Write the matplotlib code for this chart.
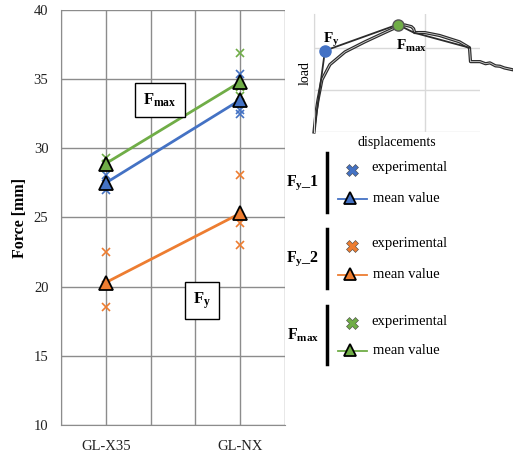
#!/usr/bin/env python3
"""
Force comparison chart: F_y_1, F_y_2 and F_max for two glulam types
"""

import numpy as np
import matplotlib
matplotlib.use('Agg')
import matplotlib.pyplot as plt

plt.rcParams['font.family'] = ['Liberation Serif', 'DejaVu Serif']
plt.rcParams['mathtext.fontset'] = 'custom'
plt.rcParams['mathtext.rm'] = 'Liberation Serif'
plt.rcParams['mathtext.bf'] = 'Liberation Serif:bold'
plt.rcParams['mathtext.default'] = 'regular'

# Data
categories = ['GL-X35', 'GL-NX']
cat_pos = [1, 4]

fy1_exp = [[28.1, 27.0, 27.4], [35.4, 32.5, 32.8]]
fy1_mean = [27.5, 33.5]
fy2_exp = [[22.5, 18.5, 20.1], [28.1, 24.6, 23.0]]
fy2_mean = [20.3, 25.3]
fmax_exp = [[29.3, 28.6, 28.9], [36.9, 33.8, 34.4]]
fmax_mean = [28.9, 34.8]

# sketch of a load-displacement curve for the inset
curve_x = [0, 0.02, 0.036, 0.072, 0.144, 0.28, 0.46, 0.64, 0.757, 0.82, 0.88,
           0.9, 0.91, 1.0, 1.135, 1.315, 1.405, 1.414, 1.5, 1.55, 1.59, 1.64,
           1.68, 1.72, 1.79]
curve_y = [0, 0.5, 0.76, 1.24, 1.6, 1.9, 2.14, 2.36, 2.5, 2.54, 2.5,
           2.45, 2.36, 2.36, 2.29, 2.14, 2.0, 1.67, 1.67, 1.62, 1.64, 1.57,
           1.56, 1.52, 1.48]
bilin_x = [0, 0.099, 0.757, 0.9, 1.405]
bilin_y = [0, 1.93, 2.55, 2.36, 2.0]
fy_point = (0.099, 1.93)
fmax_point = (0.757, 2.55)

BLUE = '#4472C4'
ORANGE = '#ED7D31'
GREEN = '#70AD47'
GRID = '#8c8c8c'

fig = plt.figure(figsize=(5.13, 4.54), dpi=100)

# Main chart
ax = fig.add_axes([61 / 513, 1 - 425 / 454, 224 / 513, 415 / 454])

series = [
    (fy2_exp, fy2_mean, ORANGE),
    (fy1_exp, fy1_mean, BLUE),
    (fmax_exp, fmax_mean, GREEN),
]
for exp, mean, color in series:
    for pos, vals in zip(cat_pos, exp):
        ax.plot([pos] * len(vals), vals, linestyle='none', marker='x',
                color=color, markersize=6, markeredgewidth=1.2, zorder=3)
    ax.plot(cat_pos, mean, color=color, linewidth=2, zorder=4)
    ax.plot(cat_pos, mean, linestyle='none', marker='^', markersize=10.5,
            markerfacecolor=color, markeredgecolor='black',
            markeredgewidth=1.3, zorder=5)

ax.set_xlim(0, 5)
ax.set_ylim(10, 40)
ax.set_yticks(np.arange(10, 41, 5))
ax.set_xticks(cat_pos)
ax.set_xticklabels(categories)
ax.set_xticks([0, 2, 3, 5], minor=True)
ax.grid(True, which='both', color=GRID, linewidth=1)
ax.set_axisbelow(True)
ax.tick_params(which='both', length=0, labelsize=10.5, colors='#222222')
ax.tick_params(axis='x', pad=11)
ax.tick_params(axis='y', pad=9)
for side in ['top', 'right']:
    ax.spines[side].set_visible(False)
for side in ['left', 'bottom']:
    ax.spines[side].set_color(GRID)
ax.set_ylabel('Force [mm]', fontsize=11.5, fontweight='bold', labelpad=4)

box = dict(boxstyle='square,pad=0.5', facecolor='white', edgecolor='black',
           linewidth=1)
ax.text(2.21, 33.5, r'F$_{max}$', fontsize=12, fontweight='bold',
        ha='center', va='center', bbox=box, zorder=6)
ax.text(3.15, 19.0, r'F$_{y}$', fontsize=12, fontweight='bold',
        ha='center', va='center', bbox=box, zorder=6)

# Inset: load-displacement sketch
ins = fig.add_axes([314 / 513, 1 - 132 / 454, 166 / 513, 118 / 454])
ins.set_xlim(0, 1.5)
ins.set_ylim(0, 2.8)
ins.set_xticks([0, 1])
ins.set_yticks([0, 1, 2])
ins.grid(True, color='#d9d9d9', linewidth=1)
ins.tick_params(length=0, labelleft=False, labelbottom=False)
for side in ['top', 'right', 'bottom']:
    ins.spines[side].set_visible(False)
ins.spines['left'].set_color('#d9d9d9')
ins.patch.set_alpha(0)
ins.plot(curve_x, curve_y, color='#2b2b2b', linewidth=2.3, clip_on=False,
         solid_joinstyle='round')
ins.plot(curve_x, curve_y, color='#cfcfcf', linewidth=0.6, clip_on=False)
ins.plot(bilin_x, bilin_y, color='#2b2b2b', linewidth=1.3, clip_on=False)
ins.plot(*fy_point, marker='o', markersize=8, color=BLUE, clip_on=False,
         zorder=5)
ins.plot(*fmax_point, marker='o', markersize=8, color=GREEN,
         markeredgecolor='#555555', clip_on=False, zorder=5)
ins.text(0.16, 2.18, r'F$_{y}$', fontsize=11, fontweight='bold',
         ha='center', va='center')
ins.text(0.88, 2.05, r'F$_{max}$', fontsize=11, fontweight='bold',
         ha='center', va='center')
ins.set_ylabel('load', fontsize=10, labelpad=2)
ins.set_xlabel('displacements', fontsize=10, labelpad=3)

# Legend drawn by hand in pixel space
lg = fig.add_axes([0, 0, 1, 1])
lg.set_xlim(0, 513)
lg.set_ylim(454, 0)
lg.axis('off')

legend_groups = [
    (r'F$_{y}$_1', BLUE, 153, 212),
    (r'F$_{y}$_2', ORANGE, 229, 288),
    (r'F$_{max}$', GREEN, 306, 364),
]
for label, color, top, bot in legend_groups:
    mid = (top + bot) / 2
    lg.text(303, mid, label, fontsize=11.5, fontweight='bold',
            ha='center', va='center')
    lg.plot([327, 327], [top, bot], color='black', linewidth=2.5)
    ey = top + 17
    my = bot - 13
    lg.plot(352, ey, marker='X', markersize=8, color=color,
            markeredgecolor='#444444', markeredgewidth=0.4)
    lg.text(371, ey - 2, 'experimental', fontsize=10.5, va='center')
    lg.plot([338, 367], [my, my], color=color, linewidth=1.3)
    lg.plot(350, my - 1, marker='^', markersize=8.5, markerfacecolor=color,
            markeredgecolor='black', markeredgewidth=1.3)
    lg.text(373, my - 1, 'mean value', fontsize=10.5, va='center')

plt.savefig('out.png', dpi=100)
plt.close()
